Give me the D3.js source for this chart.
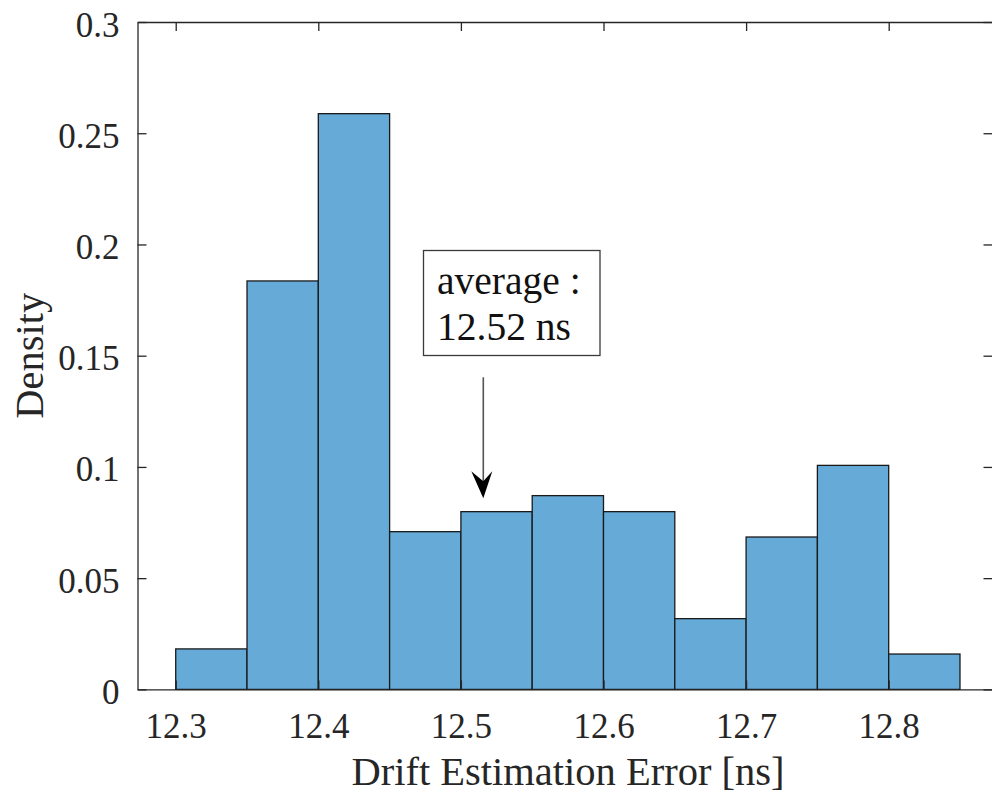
<!DOCTYPE html>
<html>
<head>
<meta charset="utf-8">
<script src="https://cdn.jsdelivr.net/npm/d3@7"></script>
<style>
  html, body { margin: 0; padding: 0; background: #fff; }
  svg { display: block; }
</style>
</head>
<body>
<svg id="chart" width="992" height="798"></svg>
<script>
// ---- data ----
const binEdges = [12.30, 12.35, 12.40, 12.45, 12.50, 12.55, 12.60, 12.65, 12.70, 12.75, 12.80, 12.85];
const densities = [0.0182, 0.1836, 0.2588, 0.0709, 0.0799, 0.0871, 0.0799, 0.0318, 0.0685, 0.1007, 0.0159];
const xTicks = [12.3, 12.4, 12.5, 12.6, 12.7, 12.8];
const yTicks = [0, 0.05, 0.1, 0.15, 0.2, 0.25, 0.3];
const yTickLabels = ["0", "0.05", "0.1", "0.15", "0.2", "0.25", "0.3"];
const xLabel = "Drift Estimation Error [ns]";
const yLabel = "Density";
const annotationLines = ["average :", "12.52 ns"];
const arrowX = 12.5157;       // data x of the arrow
const arrowFrom = 0.1403;     // data y of arrow tail
const arrowTo = 0.0859;       // data y of arrow tip

// ---- layout ----
const FONT = '"Liberation Serif", "Times New Roman", serif';
const svg = d3.select("#chart");
const mLeft = 137.5, mRight = 992.5, mTop = 22, mBottom = 689.4;
const x = d3.scaleLinear().domain([12.2732, 12.8728]).range([mLeft, mRight]);
const y = d3.scaleLinear().domain([0, 0.3]).range([mBottom, mTop]);
const axisColor = "#262626";

const bins = densities.map((d, i) => ({x0: binEdges[i], x1: binEdges[i + 1], v: d}));

// bars
svg.append("g").selectAll("rect").data(bins).join("rect")
  .attr("x", d => x(d.x0))
  .attr("y", d => y(d.v))
  .attr("width", d => x(d.x1) - x(d.x0))
  .attr("height", d => y(0) - y(d.v))
  .attr("fill", "rgb(102,170,215)")
  .attr("stroke", "#1a1a1a")
  .attr("stroke-width", 1.3);

// axes (MATLAB style, ticks inward, box on)
const tickLen = 9;
const fmt = (v) => yTickLabels[yTicks.indexOf(v)];

const xAxisB = d3.axisBottom(x).tickValues(xTicks).tickSizeInner(-tickLen).tickSizeOuter(0).tickPadding(24).tickFormat(d3.format(".1f"));
const xAxisT = d3.axisTop(x).tickValues(xTicks).tickSizeInner(-tickLen).tickSizeOuter(0).tickFormat("");
const yAxisL = d3.axisLeft(y).tickValues(yTicks).tickSizeInner(-tickLen).tickSizeOuter(0).tickPadding(18).tickFormat(fmt);
const yAxisR = d3.axisRight(y).tickValues(yTicks).tickSizeInner(-tickLen).tickSizeOuter(0).tickFormat("");

function style(g) {
  g.attr("font-family", null).attr("font-size", null);
  g.selectAll(".domain").attr("stroke", axisColor).attr("stroke-width", 1.3);
  g.selectAll(".tick line").attr("stroke", axisColor).attr("stroke-width", 1.3);
  g.selectAll(".tick text").attr("fill", axisColor)
    .style("font-family", FONT)
    .style("font-size", "35px");
}

svg.append("g").attr("transform", `translate(0,${mBottom})`).call(xAxisB).call(style)
  .selectAll(".tick text").attr("dy", "0.71em");
svg.append("g").attr("transform", `translate(0,${mTop})`).call(xAxisT).call(style);
svg.append("g").attr("transform", `translate(${mLeft},0)`).call(yAxisL).call(style)
  .selectAll(".tick text").attr("dy", "0.4em");
svg.append("g").attr("transform", `translate(${mRight},0)`).call(yAxisR).call(style);

// axis labels
svg.append("text")
  .attr("x", (mLeft + mRight) / 2 + 3)
  .attr("y", 785)
  .attr("text-anchor", "middle")
  .attr("fill", axisColor)
  .style("font-family", FONT)
  .style("font-size", "40.5px")
  .text(xLabel);

svg.append("text")
  .attr("transform", `translate(43,${(mTop + mBottom) / 2}) rotate(-90)`)
  .attr("text-anchor", "middle")
  .attr("fill", axisColor)
  .style("font-family", FONT)
  .style("font-size", "40.5px")
  .text(yLabel);

// annotation box
const ann = svg.append("g");
ann.append("rect")
  .attr("x", 423.5).attr("y", 250.5)
  .attr("width", 176.5).attr("height", 105)
  .attr("fill", "#fff")
  .attr("stroke", "#3a3a3a")
  .attr("stroke-width", 1.3);
ann.selectAll("text.ann").data(annotationLines).join("text")
  .attr("class", "ann")
  .attr("x", 437)
  .attr("y", (d, i) => 294 + i * 46)
  .style("font-family", FONT)
  .style("font-size", "39.5px")
  .attr("fill", "#111")
  .text(d => d);

// arrow
const ax = x(arrowX);
const tipY = y(arrowTo);
svg.append("line")
  .attr("x1", ax).attr("x2", ax)
  .attr("y1", y(arrowFrom)).attr("y2", tipY - 12)
  .attr("stroke", "#555")
  .attr("stroke-width", 1.6);
svg.append("path")
  .attr("d", `M${ax},${tipY} L${ax - 12},${tipY - 27} L${ax},${tipY - 17} L${ax + 9},${tipY - 27} Z`)
  .attr("fill", "#000");
</script>
</body>
</html>
